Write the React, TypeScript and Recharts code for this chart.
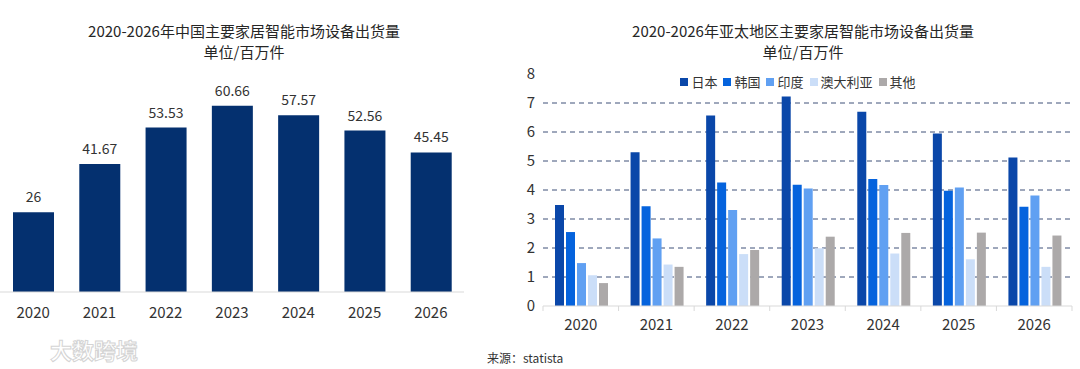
import React from 'react'
import { BarChart, Bar, XAxis, YAxis, CartesianGrid, LabelList, Legend } from 'recharts'

const years = ['2020', '2021', '2022', '2023', '2024', '2025', '2026']
const chinaShipments = [26, 41.67, 53.53, 60.66, 57.57, 52.56, 45.45]

const apacSeries = ['日本', '韩国', '印度', '澳大利亚', '其他']
const japan = [3.48, 5.3, 6.57, 7.22, 6.7, 5.95, 5.12]
const korea = [2.55, 3.44, 4.26, 4.18, 4.38, 3.97, 3.42]
const india = [1.48, 2.33, 3.31, 4.05, 4.17, 4.09, 3.81]
const australia = [1.06, 1.43, 1.79, 1.99, 1.81, 1.61, 1.35]
const others = [0.79, 1.35, 1.93, 2.39, 2.52, 2.53, 2.43]
const apacTicks = [0, 1, 2, 3, 4, 5, 6, 7, 8]
const gridValues = [1, 2, 3, 4, 5, 6, 7]

const apacColors = ['#0a47a9', '#0563dd', '#60a0f2', '#cbdef8', '#aca9a9']
const font = '"Noto Sans CJK SC", "Noto Sans", sans-serif'

const chinaData = years.map((year, i) => ({ year, value: chinaShipments[i] }))
const apacValues = [japan, korea, india, australia, others]
const apacData = years.map((year, i) => {
  const row: Record<string, any> = { year }
  apacSeries.forEach((name, s) => {
    row[name] = apacValues[s][i]
  })
  return row
})

// right chart plot box, used for the between-category tick marks
const RIGHT_WIDTH = 580
const RIGHT_LEFT = 43
const RIGHT_RIGHT = 8
const BAND = (RIGHT_WIDTH - RIGHT_LEFT - RIGHT_RIGHT) / years.length

const YearTick = (props: any) => {
  const { x, y, payload, index } = props
  const last = index === years.length - 1
  return (
    <g>
      <line x1={x - BAND / 2} x2={x - BAND / 2} y1={y} y2={y + 5} stroke="#d9d9d9" />
      {last && <line x1={x + BAND / 2} x2={x + BAND / 2} y1={y} y2={y + 5} stroke="#d9d9d9" />}
      <text x={x} y={y + 24} textAnchor="middle" fontSize={15} fill="#333" fontFamily={font}>
        {payload.value}
      </text>
    </g>
  )
}

const LegendContent = (props: any) => {
  // keep series order, recharts sorts the payload by name
  const items = [...(props.payload || [])].sort(
    (a: any, b: any) => apacSeries.indexOf(a.value) - apacSeries.indexOf(b.value)
  )
  return (
    <div style={{ display: 'flex', justifyContent: 'center', alignItems: 'center', fontFamily: font, fontSize: 13, color: '#333' }}>
      {items.map((item: any) => (
        <div key={item.value} style={{ display: 'flex', alignItems: 'center', marginRight: 6 }}>
          <span style={{ display: 'inline-block', width: 8, height: 8, background: item.color, marginRight: 3 }} />
          <span>{item.value}</span>
        </div>
      ))}
    </div>
  )
}

const titleStyle: React.CSSProperties = {
  position: 'absolute',
  top: 20,
  width: 480,
  textAlign: 'center',
  fontSize: 15,
  lineHeight: '21px',
  color: '#262626',
  fontFamily: font,
}

export default function App() {
  return (
    <div style={{ position: 'absolute', left: 0, top: 0, width: 1080, height: 369, background: '#fff', overflow: 'hidden', fontFamily: font }}>
      <div style={{ ...titleStyle, left: 4 }}>
        2020-2026年中国主要家居智能市场设备出货量
        <br />
        单位/百万件
      </div>
      <div style={{ ...titleStyle, left: 563 }}>
        2020-2026年亚太地区主要家居智能市场设备出货量
        <br />
        单位/百万件
      </div>

      <div style={{ position: 'absolute', left: 0, top: 0 }}>
        <BarChart width={480} height={369} data={chinaData} margin={{ top: 77, right: 16, bottom: 0, left: 0 }} barSize={41}>
          <XAxis
            dataKey="year"
            height={77}
            tickLine={false}
            tickSize={0}
            tickMargin={15}
            axisLine={{ stroke: '#d9d9d9' }}
            tick={{ fontSize: 15, fill: '#333', fontFamily: font }}
          />
          <YAxis hide domain={[0, 70]} />
          <Bar dataKey="value" fill="#04306f" isAnimationActive={false}>
            <LabelList dataKey="value" position="top" offset={10} fontSize={14} fill="#333" fontFamily={font} />
          </Bar>
        </BarChart>
      </div>

      <div style={{ position: 'absolute', left: 500, top: 0 }}>
        <BarChart
          width={RIGHT_WIDTH}
          height={369}
          data={apacData}
          margin={{ top: 74, right: RIGHT_RIGHT, bottom: 0, left: 0 }}
          barCategoryGap={12}
          barGap={2}
        >
          <CartesianGrid vertical={false} horizontalValues={gridValues} stroke="#3f5078" strokeDasharray="5 4" />
          <XAxis
            dataKey="year"
            height={63}
            tickLine={false}
            tickSize={0}
            tickMargin={0}
            axisLine={{ stroke: '#d9d9d9' }}
            tick={<YearTick />}
          />
          <YAxis
            width={RIGHT_LEFT}
            domain={[0, 8]}
            ticks={apacTicks}
            axisLine={false}
            tickLine={false}
            tickSize={0}
            tickMargin={8}
            tick={{ fontSize: 15, fill: '#333', fontFamily: font }}
          />
          <Legend verticalAlign="middle" wrapperStyle={{ top: 72, left: 0, width: 602 }} content={<LegendContent />} />
          {apacSeries.map((name, i) => (
            <Bar key={name} dataKey={name} fill={apacColors[i]} isAnimationActive={false} />
          ))}
        </BarChart>
      </div>

      <div style={{ position: 'absolute', left: 487, top: 349, fontSize: 12, color: '#333', fontFamily: font }}>
        来源：statista
      </div>
      <div
        style={{
          position: 'absolute',
          left: 50,
          top: 333,
          fontSize: 22,
          color: '#fff',
          WebkitTextStroke: '1px #d4d4d4',
          fontFamily: font,
          fontWeight: 'bold',
        }}
      >
        大数跨境
      </div>
    </div>
  )
}
